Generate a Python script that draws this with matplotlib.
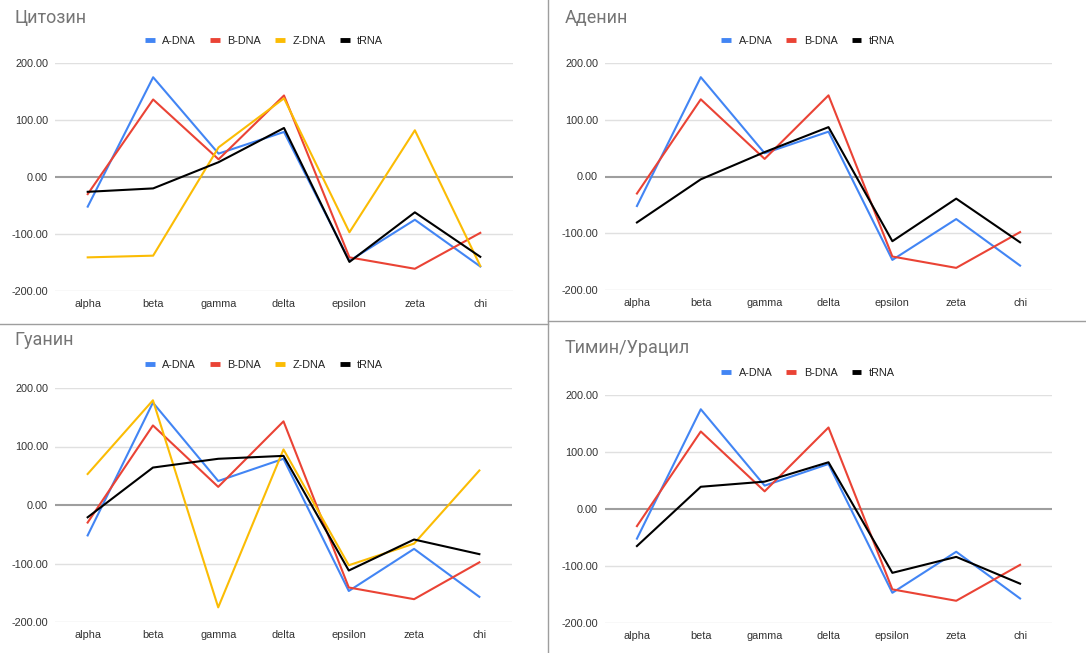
import matplotlib
matplotlib.use("Agg")
import matplotlib.pyplot as plt
from matplotlib.lines import Line2D

plt.rcParams['font.family'] = ['Liberation Sans', 'DejaVu Sans']

categories = ["alpha", "beta", "gamma", "delta", "epsilon", "zeta", "chi"]

# Common helix values
a_dna = [-52, 175, 41, 79, -147, -75, -157]
b_dna = [-30, 136, 31, 143, -141, -161, -98]

# Cytosine
cyt_z = [-141, -138, 52, 138, -97, 82, -156]
cyt_trna = [-26, -20, 26, 86, -149, -62, -140]
# Adenine
ade_trna = [-81, -5, 43, 87, -114, -39, -116]
# Guanine
gua_z = [53, 179, -175, 95, -103, -66, 59]
gua_trna = [-21, 64, 79, 84, -112, -59, -84]
# Thymine / Uracil
thy_trna = [-65, 39, 48, 82, -112, -84, -131]

titles = ["Цитозин", "Аденин", "Гуанин", "Тимин/Урацил"]

COL = {"A-DNA": "#4285F4", "B-DNA": "#EA4335", "Z-DNA": "#FBBC04", "tRNA": "#000000"}

panels = [
    {"title": titles[0], "series": [("A-DNA", a_dna), ("B-DNA", b_dna), ("Z-DNA", cyt_z), ("tRNA", cyt_trna)],
     "ax": (55, 63, 513, 291), "title_xy": (14, 18), "legend_xy": (264, 41)},
    {"title": titles[1], "series": [("A-DNA", a_dna), ("B-DNA", b_dna), ("tRNA", ade_trna)],
     "ax": (605, 63, 1052, 290), "title_xy": (565, 18), "legend_xy": (808, 41)},
    {"title": titles[2], "series": [("A-DNA", a_dna), ("B-DNA", b_dna), ("Z-DNA", gua_z), ("tRNA", gua_trna)],
     "ax": (55, 388, 512, 622), "title_xy": (14, 340), "legend_xy": (264, 365)},
    {"title": titles[3], "series": [("A-DNA", a_dna), ("B-DNA", b_dna), ("tRNA", thy_trna)],
     "ax": (605, 395, 1052, 623), "title_xy": (565, 348), "legend_xy": (808, 373)},
]

W, H = 1086, 653
fig = plt.figure(figsize=(W / 100, H / 100), dpi=100)

for p in panels:
    x0, y0, x1, y1 = p["ax"]
    ax = fig.add_axes([x0 / W, 1 - y1 / H, (x1 - x0) / W, (y1 - y0) / H])
    x = list(range(len(categories)))
    for name, vals in p["series"]:
        ax.plot(x, vals, color=COL[name], lw=1.5, solid_joinstyle='round', zorder=3)
    ax.set_xlim(-0.5, len(categories) - 0.5)
    ax.set_ylim(-200, 200)
    ax.set_yticks([-200, -100, 0, 100, 200])
    ax.set_yticklabels([f"{v:.2f}" for v in [-200, -100, 0, 100, 200]])
    ax.set_xticks(x)
    ax.set_xticklabels(categories)
    for v in [-200, -100, 100, 200]:
        ax.axhline(v, color="#e0e0e0", lw=1, zorder=1)
    ax.axhline(0, color="#9e9e9e", lw=1.5, zorder=2)
    for s in ax.spines.values():
        s.set_visible(False)
    ax.tick_params(axis='both', length=0, labelsize=7.8, labelcolor="#333333")
    ax.tick_params(axis='y', pad=5)
    ax.tick_params(axis='x', pad=6)
    ax.set_facecolor("none")
    tx, ty = p["title_xy"]
    fig.text(tx / W, 1 - ty / H, p["title"], fontsize=13, color="#757575", ha="left", va="center",
             family=['Roboto', 'DejaVu Sans'])
    handles = [Line2D([0], [0], color=COL[n], lw=3.5, solid_capstyle='butt') for n, _ in p["series"]]
    lx, ly = p["legend_xy"]
    fig.legend(handles, [n for n, _ in p["series"]], loc="center",
               bbox_to_anchor=(lx / W, 1 - ly / H), ncol=len(handles), frameon=False,
               fontsize=7.8, handlelength=0.9, handletextpad=0.7, columnspacing=1.3,
               labelcolor="#222222")

# separators
fig.add_artist(Line2D([548 / W, 548 / W], [0, 1], color="#9e9e9e", lw=1))
fig.add_artist(Line2D([0, 548 / W], [1 - 324 / H, 1 - 324 / H], color="#9e9e9e", lw=1))
fig.add_artist(Line2D([548 / W, 1], [1 - 321 / H, 1 - 321 / H], color="#9e9e9e", lw=1))

fig.savefig("out.png", dpi=100)
